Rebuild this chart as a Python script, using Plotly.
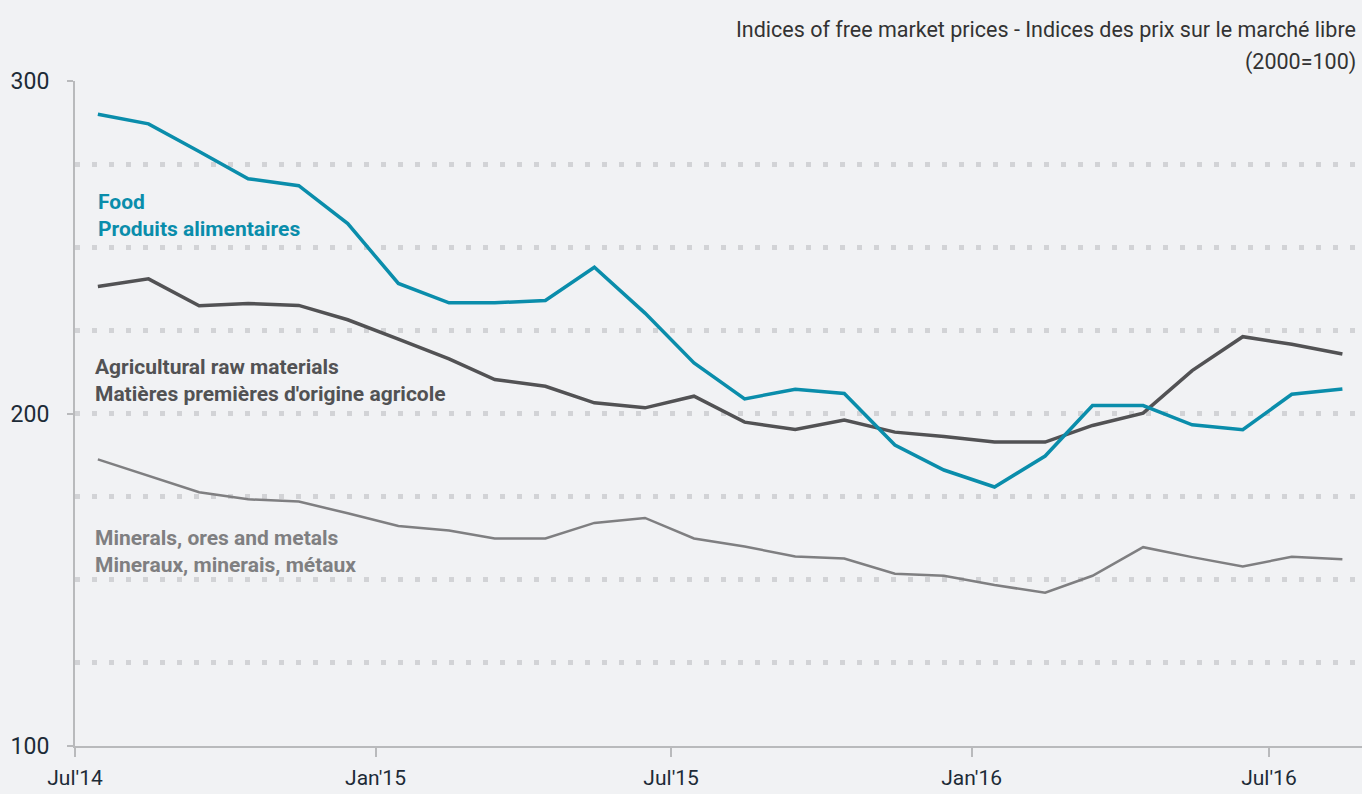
import plotly.graph_objects as go
import pandas as pd

# monthly observations, Jul 2014 - Aug 2016 (plotted mid-month)
months = pd.date_range("2014-07-01", "2016-08-01", freq="MS") + pd.Timedelta(days=14)

food = [290.0, 287.1, 278.8, 270.6, 268.5, 257.1, 239.1, 233.3, 233.3, 234.0,
        244.0, 230.2, 215.2, 204.4, 207.3, 206.0, 190.5, 183.0, 177.9, 187.2,
        202.4, 202.4, 196.6, 195.1, 205.8, 207.4]
agri = [238.2, 240.5, 232.4, 233.1, 232.5, 228.2, 222.4, 216.4, 210.2, 208.2,
        203.2, 201.7, 205.2, 197.4, 195.2, 198.0, 194.4, 193.1, 191.4, 191.4,
        196.4, 200.1, 212.9, 223.1, 220.8, 217.9]
minerals = [186.2, 181.2, 176.3, 174.2, 173.5, 170.0, 166.2, 164.8, 162.4, 162.4,
            167.1, 168.6, 162.4, 160.0, 157.0, 156.4, 151.8, 151.2, 148.4, 146.1,
            151.2, 159.8, 156.8, 154.0, 156.9, 156.2]

tick_dates = ["2014-07-01", "2015-01-01", "2015-07-01", "2016-01-01", "2016-07-01"]
tick_text = ["Jul'14", "Jan'15", "Jul'15", "Jan'16", "Jul'16"]

FONT = "Roboto, Liberation Sans, sans-serif"
BG = "#f1f2f4"
TEAL = "#0a8dab"
DARK = "#525254"
GREY = "#7f7f81"
GRID = "#d2d3d6"
AXIS = "#b9babc"
TICKTXT = "#1d2b37"

fig = go.Figure()
fig.add_trace(go.Scatter(x=months, y=minerals, mode="lines",
                         line=dict(color=GREY, width=2.5)))
fig.add_trace(go.Scatter(x=months, y=agri, mode="lines",
                         line=dict(color=DARK, width=3.5)))
fig.add_trace(go.Scatter(x=months, y=food, mode="lines",
                         line=dict(color=TEAL, width=3.5)))

labels = [
    ("Food<br>Produits alimentaires", "2014-07-15", 259.6, TEAL),
    ("Agricultural raw materials<br>Matières premières d'origine agricole", "2014-07-13", 209.9, DARK),
    ("Minerals, ores and metals<br>Mineraux, minerais, métaux", "2014-07-13", 158.6, GREY),
]
for txt, x, y, col in labels:
    fig.add_annotation(x=x, y=y, text="<b>" + txt + "</b>", showarrow=False,
                       xanchor="left", yanchor="middle", align="left", xshift=-2,
                       font=dict(family=FONT, size=21, color=col))

fig.add_annotation(xref="paper", yref="paper", x=1, y=1, xshift=-4, yshift=52,
                   text="Indices of free market prices - Indices des prix sur le marché libre",
                   showarrow=False, xanchor="right", yanchor="middle",
                   font=dict(family=FONT, size=21.5, color="#333333"))
fig.add_annotation(xref="paper", yref="paper", x=1, y=1, xshift=-4, yshift=19,
                   text="(2000=100)", showarrow=False, xanchor="right", yanchor="middle",
                   font=dict(family=FONT, size=21.5, color="#333333"))

fig.update_layout(
    width=1362, height=794,
    margin=dict(l=75, r=0, t=81, b=48),
    paper_bgcolor=BG, plot_bgcolor=BG,
    showlegend=False,
    font=dict(family=FONT, size=21, color=TICKTXT),
    xaxis=dict(range=["2014-07-01", "2016-08-27"], tickvals=tick_dates, ticktext=tick_text,
               showgrid=False, zeroline=False, showline=True, linecolor=AXIS, linewidth=2,
               ticks="outside", ticklen=9, tickcolor=AXIS, tickwidth=2,
               ticklabelstandoff=3,
               tickfont=dict(family=FONT, size=21, color=TICKTXT)),
    yaxis=dict(range=[100, 300], tickvals=[100, 200, 300], zeroline=False,
               showline=True, linecolor=AXIS, linewidth=2,
               ticks="outside", ticklen=6, tickcolor=AXIS, tickwidth=2,
               showgrid=True, gridcolor=GRID, gridwidth=5, griddash="5px,12px",
               minor=dict(dtick=25, showgrid=True, gridcolor=GRID, gridwidth=5,
                          griddash="5px,12px", ticks=""),
               tickfont=dict(family=FONT, size=23, color=TICKTXT),
               ticklabelstandoff=13),
)

fig.write_html("out.html", config={"displayModeBar": False},
               post_script="document.body.style.margin='0';"
                           "document.body.style.background='%s';" % BG)
